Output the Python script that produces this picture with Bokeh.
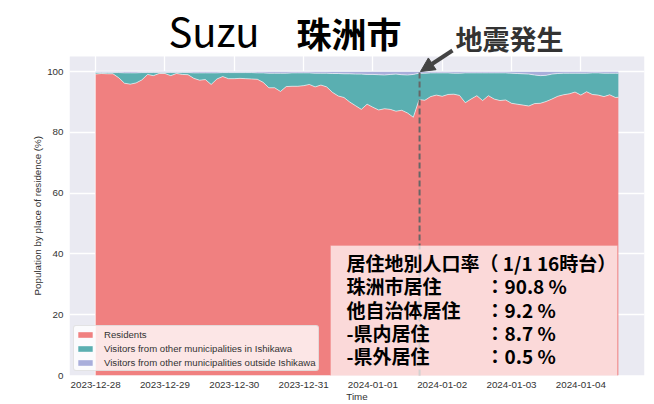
import pandas as pd
from bokeh.plotting import figure
from bokeh.models import (ColumnDataSource, Range1d, FixedTicker, DatetimeTickFormatter,
                          Label, BoxAnnotation, Arrow, NormalHead, Title)
from bokeh.embed import file_html
from bokeh.resources import INLINE

# ---------------- data ----------------
start_time = "2023-12-28 00:00"
hours = list(range(0, 181, 2)) + [181]

residents = [99.2, 99.4, 99.3, 99.3, 98.0, 96.2, 95.9, 96.3, 97.3, 99.1,
             98.7, 99.4, 99.4, 98.7, 99.4, 99.1, 99.0, 97.8, 97.2, 97.4,
             95.8, 97.6, 98.4, 97.7, 97.7, 97.8, 97.7, 97.6, 97.5, 96.5,
             94.7, 94.7, 93.5, 95.1, 95.2, 95.2, 95.4, 95.8, 95.0, 95.6,
             95.0, 93.2, 92.0, 91.5, 90.0, 88.8, 87.6, 89.3, 88.3, 87.4,
             87.8, 87.6, 87.0, 87.3, 86.4, 85.0, 90.8, 90.6, 91.8, 92.3,
             91.9, 92.5, 92.6, 92.2, 89.8, 91.0, 92.1, 90.5, 92.1, 91.0,
             90.5, 90.7, 89.6, 89.3, 89.0, 88.7, 89.5, 89.6, 90.2, 91.0,
             91.9, 92.4, 92.7, 93.3, 92.3, 93.4, 92.5, 92.3, 91.8, 92.4,
             91.5, 91.6]

in_pref = [0.5, 0.3, 0.4, 0.4, 1.7, 3.4, 3.7, 3.3, 2.4, 0.6,
           1.0, 0.3, 0.3, 1.0, 0.3, 0.6, 0.7, 1.8, 2.4, 2.2,
           3.8, 2.0, 1.3, 2.0, 2.0, 1.9, 2.0, 2.1, 2.1, 3.1,
           4.8, 4.8, 6.0, 4.4, 4.4, 4.4, 4.2, 3.8, 4.5, 3.9,
           4.5, 6.2, 7.4, 7.8, 9.3, 10.4, 11.6, 9.8, 10.8, 11.6,
           11.1, 11.5, 12.2, 11.7, 12.5, 14.1, 8.7, 8.9, 7.8, 7.3,
           7.7, 7.1, 6.9, 7.3, 9.8, 8.6, 7.5, 9.1, 7.5, 8.6,
           9.1, 8.9, 9.9, 10.1, 10.3, 10.5, 9.4, 9.1, 8.6, 8.2,
           7.5, 7.1, 6.8, 6.2, 7.2, 6.1, 7.1, 7.3, 7.7, 7.1,
           8.0, 7.9]

out_pref = [0.3, 0.3, 0.3, 0.3, 0.3, 0.4, 0.4, 0.4, 0.3, 0.3,
            0.3, 0.3, 0.3, 0.3, 0.3, 0.3, 0.3, 0.4, 0.4, 0.4,
            0.4, 0.4, 0.3, 0.3, 0.3, 0.3, 0.3, 0.3, 0.4, 0.4,
            0.5, 0.5, 0.5, 0.5, 0.4, 0.4, 0.4, 0.4, 0.5, 0.5,
            0.5, 0.6, 0.6, 0.7, 0.7, 0.8, 0.8, 0.9, 0.9, 1.0,
            1.1, 0.9, 0.8, 1.0, 1.1, 0.9, 0.5, 0.5, 0.4, 0.4,
            0.4, 0.4, 0.5, 0.5, 0.4, 0.4, 0.4, 0.4, 0.4, 0.4,
            0.4, 0.4, 0.5, 0.6, 0.7, 0.8, 1.1, 1.3, 1.2, 0.8,
            0.6, 0.5, 0.5, 0.5, 0.5, 0.5, 0.4, 0.4, 0.5, 0.5,
            0.5, 0.5]

series_labels = ["Residents",
                 "Visitors from other municipalities in Ishikawa",
                 "Visitors from other municipalities outside Ishikawa"]
series_colors = ["#F08080", "#5AAFB1", "#A9AEDB"]

tick_dates = ["2023-12-28", "2023-12-29", "2023-12-30", "2023-12-31",
              "2024-01-01", "2024-01-02", "2024-01-03", "2024-01-04"]
y_ticks = [0, 20, 40, 60, 80, 100]
y_top = 105
quake_time = "2024-01-01 16:10"

title_en = "Suzu"
title_ja = "珠洲市"
quake_label = "地震発生"
y_label = "Population by place of residence (%)"
x_label = "Time"
box_title = "居住地別人口率（ 1/1 16時台）"
box_labels = ["珠洲市居住", "他自治体居住", "-県内居住", "-県外居住"]
box_values = [90.8, 9.2, 8.7, 0.5]

# ---------------- build ----------------
t0 = pd.Timestamp(start_time)
times = [t0 + pd.Timedelta(hours=h) for h in hours]
src = ColumnDataSource(dict(t=times, res=residents, inp=in_pref, outp=out_pref))

def ms(ts):
    return pd.Timestamp(ts).value / 1e6

t_first, t_last = ms(times[0]), ms(times[-1])
pad = (t_last - t_first) * 0.05
X0, X1 = t_first - pad, t_last + pad

W, H = 654, 404
BL, BR, BB = 69, 10, 29
PLOT_TOP = 56                      # page y where value y_top sits
FL, FW = BL, W - BL - BR
FH = H - BB                        # frame spans page y 0 .. H-BB
px_per_unit = (FH - PLOT_TOP) / y_top
Y0 = 0
Y1 = FH / px_per_unit

def px_x(px):
    return X0 + (px - FL) / FW * (X1 - X0)

def px_y(py):
    return Y1 - py / px_per_unit

p = figure(width=W, height=H, output_backend="svg", toolbar_location=None,
           x_axis_type="datetime", x_range=Range1d(X0, X1), y_range=Range1d(Y0, Y1),
           min_border_left=BL, min_border_right=BR, min_border_top=0, min_border_bottom=BB)

p.background_fill_color = "white"
p.border_fill_color = "white"
p.outline_line_color = None

# seaborn-like plotting background, below the grid
p.add_layout(BoxAnnotation(top=y_top, fill_color="#EAEAF2", fill_alpha=1.0,
                           line_color=None, level="image"))

p.varea_stack(["res", "inp", "outp"], x="t", source=src, color=series_colors,
              legend_label=series_labels)
p.vline_stack(["res", "inp"], x="t", source=src, color="white", line_width=1, alpha=0.6)

qt = ms(quake_time)
p.segment(x0=[qt], y0=[0], x1=[qt], y1=[100], line_color="#666666", line_width=2,
          line_dash="6 3")

# axes
p.xaxis.ticker = FixedTicker(ticks=[ms(d) for d in tick_dates])
p.xaxis.formatter = DatetimeTickFormatter(days="%Y-%m-%d", months="%Y-%m-%d",
                                          hours="%Y-%m-%d")
p.yaxis.ticker = FixedTicker(ticks=y_ticks)
p.xaxis.axis_label = x_label
for ax in (p.xaxis, p.yaxis):
    ax.axis_line_color = None
    ax.major_tick_line_color = None
    ax.minor_tick_line_color = None
    ax.major_tick_out = 0
    ax.major_tick_in = 0
    ax.minor_tick_out = 0
    ax.major_label_text_font = "Liberation Sans"
    ax.major_label_text_font_size = "9.8px"
    ax.major_label_text_color = "#333333"
    ax.axis_label_text_font = "Liberation Sans"
    ax.axis_label_text_font_size = "9.8px"
    ax.axis_label_text_font_style = "normal"
    ax.axis_label_text_color = "#333333"
p.xaxis.major_label_standoff = 6
p.xaxis.axis_label_standoff = 0
p.yaxis.major_label_standoff = 6

p.grid.grid_line_color = "white"
p.grid.grid_line_width = 1.3
p.xgrid.ticker = p.xaxis.ticker
p.ygrid.ticker = p.yaxis.ticker

# y axis label as a left-side title
p.add_layout(Title(text=y_label, align="left", offset=FH - 295, text_font="Liberation Sans",
                   text_font_size="9.8px", text_font_style="normal",
                   text_color="#333333", standoff=4), "left")

# legend
lg = p.legend[0]
lg.location = (4, 4)
lg.label_text_font = "Liberation Sans"
lg.label_text_font_size = "9.6px"
lg.label_text_color = "#333333"
lg.glyph_width = 18
lg.glyph_height = 7
lg.label_height = 12
lg.label_standoff = 10
lg.spacing = 2
lg.padding = 2
lg.margin = 0
lg.background_fill_color = "white"
lg.background_fill_alpha = 0.8
lg.border_line_color = "#CCCCCC"
lg.border_line_width = 1
lg.border_radius = 3

# info box
box = BoxAnnotation(left=px_x(330), right=px_x(617), bottom=px_y(376), top=px_y(245),
                    fill_color="white", fill_alpha=0.7, line_color="#F08080",
                    line_width=1)
p.add_layout(box)

row_y0, row_dy = 262, 23.3
p.add_layout(Label(x=px_x(346), y=px_y(row_y0), text=box_title,
                   text_font="Noto Sans CJK JP", text_font_style="bold",
                   text_font_size="19px", text_baseline="middle", text_color="black"))
for k, (lab, val) in enumerate(zip(box_labels, box_values)):
    yy = px_y(row_y0 + row_dy * (k + 1))
    p.add_layout(Label(x=px_x(346), y=yy, text=lab, text_font="Noto Sans CJK JP",
                       text_font_style="bold", text_font_size="19px",
                       text_baseline="middle", text_color="black"))
    p.add_layout(Label(x=px_x(485), y=yy, text="：%.1f %%" % val,
                       text_font="Noto Sans CJK JP", text_font_style="bold",
                       text_font_size="19px", text_baseline="middle", text_color="black"))

# title and annotations
p.add_layout(Label(x=px_x(168), y=px_y(29), text=title_en, text_font="Noto Sans CJK JP",
                   text_font_size="40px", text_baseline="middle", text_color="black"))
p.add_layout(Label(x=px_x(296), y=px_y(32), text=title_ja, text_font="Noto Sans CJK JP",
                   text_font_style="bold", text_font_size="35px",
                   text_baseline="middle", text_color="black"))
p.add_layout(Label(x=px_x(455), y=px_y(38), text=quake_label, text_font="Noto Sans CJK JP",
                   text_font_style="bold", text_font_size="27px",
                   text_baseline="middle", text_color="#333333"))
p.add_layout(Arrow(x_start=px_x(452), y_start=px_y(50), x_end=px_x(420), y_end=px_y(71),
                   line_color="#444444", line_width=4,
                   end=NormalHead(size=14, fill_color="#444444", line_color="#444444")))

open("out.html", "w").write(file_html(p, INLINE))
